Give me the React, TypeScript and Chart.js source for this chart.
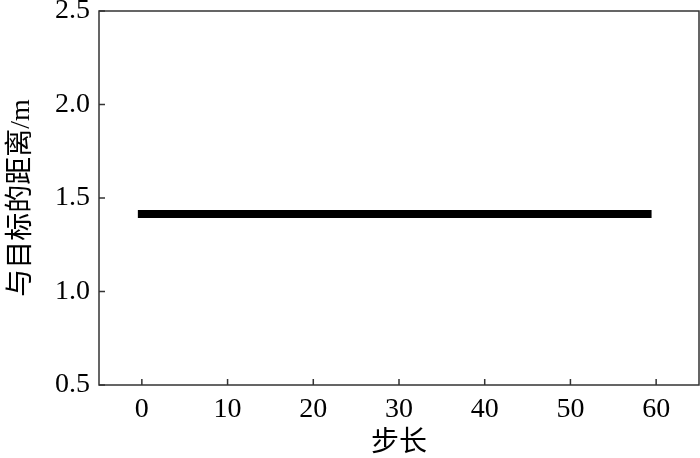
import React, { useEffect, useRef } from "react";
import { Chart, registerables } from "chart.js";

Chart.register(...registerables);

const steps: number[] = [
  0, 1, 2, 3, 4, 5, 6, 7, 8, 9, 10, 11, 12, 13, 14, 15, 16, 17, 18, 19,
  20, 21, 22, 23, 24, 25, 26, 27, 28, 29, 30, 31, 32, 33, 34, 35, 36, 37, 38, 39,
  40, 41, 42, 43, 44, 45, 46, 47, 48, 49, 50, 51, 52, 53, 54, 55, 56, 57, 58, 59,
];
const distances: number[] = [
  1.414, 1.414, 1.414, 1.414, 1.414, 1.414, 1.414, 1.414, 1.414, 1.414,
  1.414, 1.414, 1.414, 1.414, 1.414, 1.414, 1.414, 1.414, 1.414, 1.414,
  1.414, 1.414, 1.414, 1.414, 1.414, 1.414, 1.414, 1.414, 1.414, 1.414,
  1.414, 1.414, 1.414, 1.414, 1.414, 1.414, 1.414, 1.414, 1.414, 1.414,
  1.414, 1.414, 1.414, 1.414, 1.414, 1.414, 1.414, 1.414, 1.414, 1.414,
  1.414, 1.414, 1.414, 1.414, 1.414, 1.414, 1.414, 1.414, 1.414, 1.414,
];
const xTickValues: number[] = [0, 10, 20, 30, 40, 50, 60];
const yTickValues: number[] = [0.5, 1.0, 1.5, 2.0, 2.5];
const xTitle = "步长";
const yTitle = "与目标的距离/m";

const SERIF = '"Liberation Serif", "Noto Sans CJK SC", serif';

const framePlugin = {
  id: "frameTicks",
  afterDatasetsDraw(chart: any) {
    const { ctx, chartArea, scales } = chart;
    const { left, right, top, bottom } = chartArea;
    ctx.save();
    ctx.strokeStyle = "#333";
    ctx.lineWidth = 1.5;
    ctx.strokeRect(left, top, right - left, bottom - top);
    ctx.beginPath();
    for (const v of xTickValues) {
      const px = scales.x.getPixelForValue(v);
      ctx.moveTo(px, bottom);
      ctx.lineTo(px, bottom - 6);
    }
    for (const v of yTickValues) {
      const py = scales.y.getPixelForValue(v);
      ctx.moveTo(left, py);
      ctx.lineTo(left + 6, py);
    }
    ctx.stroke();
    ctx.restore();
  },
};

export default function App() {
  const ref = useRef<HTMLCanvasElement | null>(null);
  useEffect(() => {
    if (!ref.current) return;
    const chart = new Chart(ref.current, {
      type: "scatter",
      data: {
        datasets: [
          {
            data: steps.map((s, i) => ({ x: s, y: distances[i] })),
            showLine: true,
            borderColor: "#000",
            backgroundColor: "#000",
            borderWidth: 8,
            borderCapStyle: "square",
            pointRadius: 0,
            tension: 0,
          },
        ],
      },
      plugins: [framePlugin],
      options: {
        animation: false,
        responsive: false,
        devicePixelRatio: 1,
        layout: { padding: { top: 0, right: 1, left: 0, bottom: 0 } },
        plugins: { legend: { display: false }, tooltip: { enabled: false } },
        scales: {
          x: {
            type: "linear",
            min: -5,
            max: 65,
            afterBuildTicks: (scale: any) => {
              scale.ticks = xTickValues.map((v) => ({ value: v }));
            },
            afterFit: (scale: any) => {
              scale.height = 73;
              scale.paddingLeft = 0;
              scale.paddingRight = 0;
            },
            grid: { display: false, drawTicks: false },
            border: { display: false },
            ticks: {
              color: "#000",
              padding: 8,
              font: { family: SERIF, size: 28 },
            },
            title: {
              display: true,
              text: xTitle,
              color: "#000",
              font: { family: SERIF, size: 28, lineHeight: 1 },
              padding: { top: 1, bottom: 0 },
            },
          },
          y: {
            type: "linear",
            min: 0.5,
            max: 2.5,
            afterBuildTicks: (scale: any) => {
              scale.ticks = yTickValues.map((v) => ({ value: v }));
            },
            afterFit: (scale: any) => {
              scale.width = 99;
              scale.paddingTop = 11;
              scale.paddingBottom = 0;
            },
            grid: { display: false, drawTicks: false },
            border: { display: false },
            ticks: {
              color: "#000",
              padding: 9,
              font: { family: SERIF, size: 28 },
              callback: (v: any) => Number(v).toFixed(1),
            },
            title: {
              display: true,
              text: yTitle,
              color: "#000",
              font: { family: SERIF, size: 28, lineHeight: 1 },
              padding: { top: 8, bottom: 0 },
            },
          },
        },
      } as any,
    });
    return () => chart.destroy();
  }, []);
  return (
    <div style={{ position: "absolute", left: 0, top: 0, width: 700, height: 458, background: "#fff" }}>
      <canvas ref={ref} width={700} height={458} style={{ width: 700, height: 458 }} />
    </div>
  );
}
